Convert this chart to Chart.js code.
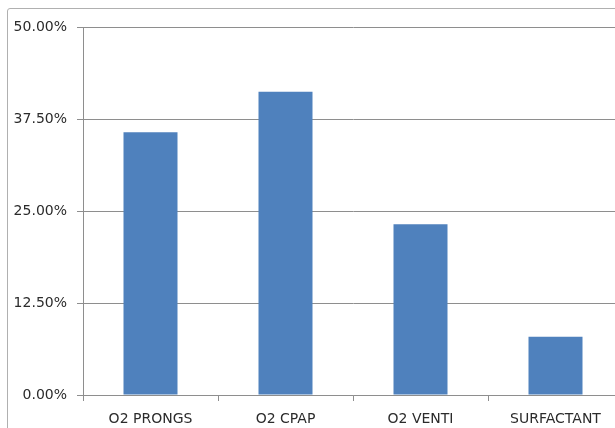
<!DOCTYPE html>
<html>
<head>
<meta charset="utf-8">
<script src="https://cdn.jsdelivr.net/npm/chart.js@4"></script>
<style>
  html, body { margin: 0; padding: 0; background: #fff; overflow: hidden; }
  #frame { position: absolute; left: 7px; top: 8px; width: 700px; height: 500px;
           border: 1px solid #b0b0b0; border-radius: 3px; }
  #wrap { position: absolute; left: 0; top: 0; width: 630px; height: 428px; }
</style>
</head>
<body>
<div id="frame"></div>
<div id="wrap"><canvas id="chart" width="630" height="428"></canvas></div>
<script>
// categories and values (percent)
const categories = ["O2 PRONGS", "O2 CPAP", "O2 VENTI", "SURFACTANT"];
const values = [35.7, 41.2, 23.2, 7.9];
const yTicks = [0, 12.5, 25, 37.5, 50];

const gridColor = "#8e8e8e";
const labelFont = { family: "'DejaVu Sans', sans-serif", size: 14 };

new Chart(document.getElementById("chart"), {
    type: "bar",
    data: {
        labels: categories,
        datasets: [{
            data: values,
            backgroundColor: "#4f81bd",
            barPercentage: 0.4,
            categoryPercentage: 1.0
        }]
    },
    options: {
        responsive: false,
        animation: false,
        layout: { padding: { top: 27, left: 0, right: 7, bottom: 0 } },
        plugins: { legend: { display: false }, tooltip: { enabled: false } },
        scales: {
            y: {
                min: 0,
                max: 50,
                afterBuildTicks: (axis) => { axis.ticks = yTicks.map(v => ({ value: v })); },
                afterFit: (axis) => { axis.width = 83; },
                ticks: {
                    color: "#2b2b2b",
                    font: labelFont,
                    padding: 10,
                    callback: (v) => v.toFixed(2) + "%"
                },
                grid: { color: gridColor, tickLength: 6, lineWidth: 1 },
                border: { color: gridColor }
            },
            x: {
                afterFit: (axis) => { axis.height = 33; },
                ticks: { color: "#2b2b2b", font: labelFont, padding: 10 },
                grid: { color: gridColor, drawOnChartArea: false, tickLength: 6, offset: true },
                border: { color: gridColor }
            }
        }
    }
});
</script>
</body>
</html>
